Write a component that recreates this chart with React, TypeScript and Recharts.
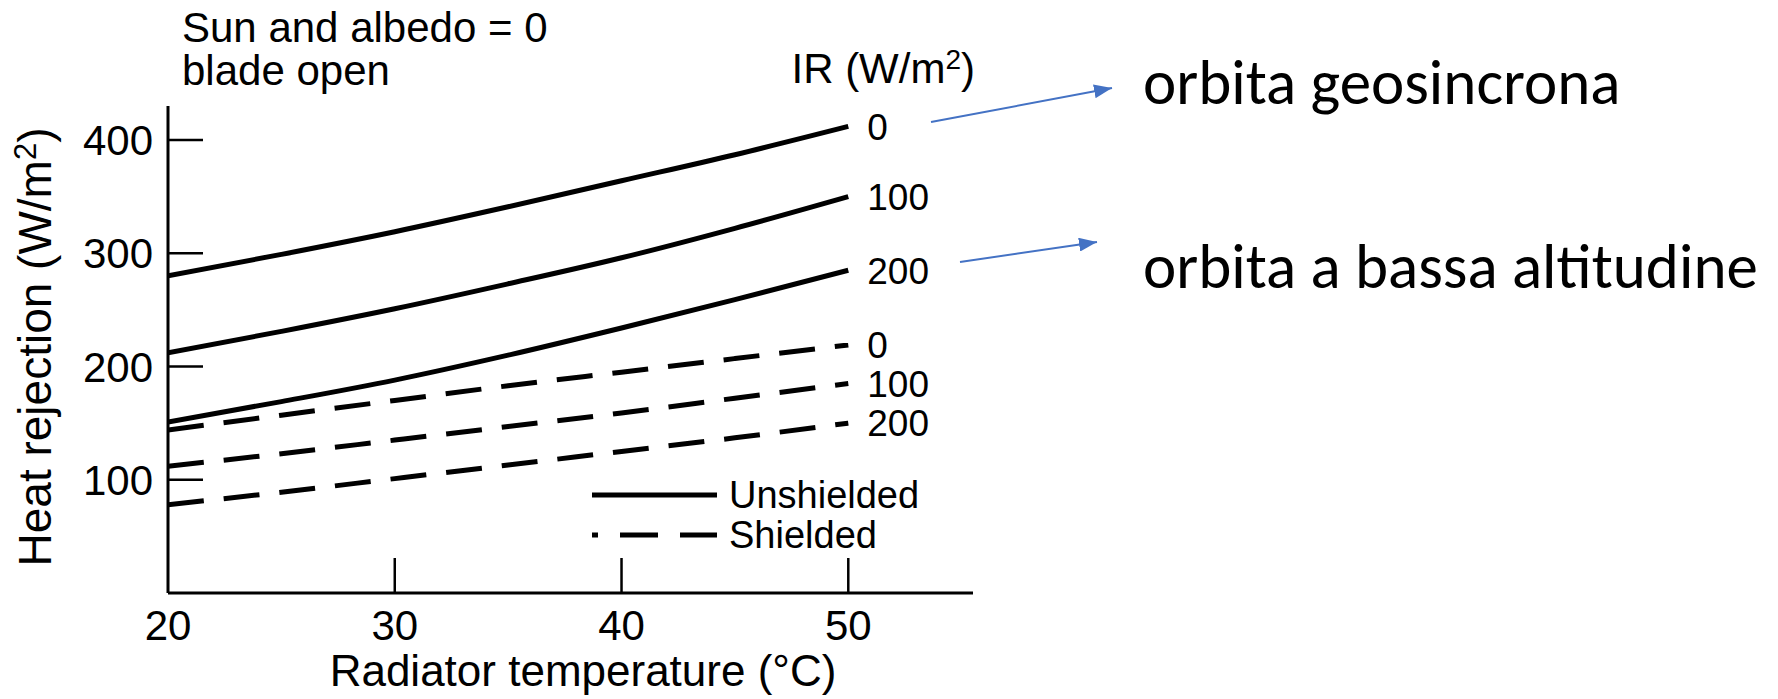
import React from "react";
import {
  LineChart,
  Line,
  XAxis,
  YAxis,
  Legend,
  Customized,
} from "recharts";

// radiator temperature (°C)
const temps = [20, 25, 30, 35, 40, 45, 50];
// heat rejection (W/m2), unshielded, for IR = 0 / 100 / 200
const unshielded0 = [280, 299, 319, 341, 364, 387, 412];
const unshielded100 = [212, 231, 251, 273, 296, 322, 350];
const unshielded200 = [151, 169, 188, 210, 234, 259, 285];
// shielded
const shielded0 = [144, 157, 170, 183, 195, 207, 219];
const shielded100 = [112, 123, 135, 147, 159, 172, 185];
const shielded200 = [78, 89, 101, 113, 125, 137, 150];

const xTicks = [20, 30, 40, 50];
const innerXTicks = [30, 40, 50];
const yTicks = [100, 200, 300, 400];
const irLevels = ["0", "100", "200"];
const legendItems = [
  { name: "Unshielded", dashed: false },
  { name: "Shielded", dashed: true },
];

const series = [
  { key: "u0", values: unshielded0, ir: irLevels[0], dashed: false },
  { key: "u100", values: unshielded100, ir: irLevels[1], dashed: false },
  { key: "u200", values: unshielded200, ir: irLevels[2], dashed: false },
  { key: "s0", values: shielded0, ir: irLevels[0], dashed: true },
  { key: "s100", values: shielded100, ir: irLevels[1], dashed: true },
  { key: "s200", values: shielded200, ir: irLevels[2], dashed: true },
];

const data = temps.map((t, i) => {
  const row: Record<string, number> = { t };
  series.forEach((s) => (row[s.key] = s.values[i]));
  return row;
});

const FONT = "'Liberation Sans', Arial, Helvetica, sans-serif";
const TICK = 35;
const DASH = "36 20";

function BottomTick(props: any) {
  const { x, y, payload } = props;
  const axisY = y - 17;
  return (
    <g>
      {payload.value !== 20 && (
        <line x1={x} x2={x} y1={axisY} y2={axisY - TICK} stroke="#000" strokeWidth={2.5} />
      )}
      <text x={x} y={y} dy="0.71em" textAnchor="middle" fontSize={42} fontFamily={FONT} fill="#000">
        {payload.value}
      </text>
    </g>
  );
}

function TopTick(props: any) {
  const { x, y } = props;
  return <line x1={x} x2={x} y1={y} y2={y + TICK} stroke="#000" strokeWidth={2.5} />;
}

function LeftTick(props: any) {
  const { x, y, payload } = props;
  const axisX = x + 15;
  return (
    <g>
      <line x1={axisX} x2={axisX + TICK} y1={y} y2={y} stroke="#000" strokeWidth={2.5} />
      <text x={x} y={y} dy="0.36em" textAnchor="end" fontSize={42} fontFamily={FONT} fill="#000">
        {payload.value}
      </text>
    </g>
  );
}

function RightTick(props: any) {
  const { x, y } = props;
  return <line x1={x} x2={x - TICK} y1={y} y2={y} stroke="#000" strokeWidth={2.5} />;
}

const endLabel = (text: string) => (props: any) => {
  const { index } = props;
  if (index !== temps.length - 1) return null;
  const x = props.x ?? props.viewBox?.x;
  const y = props.y ?? props.viewBox?.y;
  return (
    <text x={x + 19} y={y} dy="0.36em" fontSize={37} fontFamily={FONT} fill="#000">
      {text}
    </text>
  );
};

function LegendBox() {
  return (
    <svg width={380} height={100}>
      {legendItems.map((item, i) => (
        <g key={item.name}>
          <line
            x1={7}
            x2={132}
            y1={25 + i * 40}
            y2={25 + i * 40}
            stroke="#000"
            strokeWidth={5}
            strokeDasharray={item.dashed ? "6 22 38 22 38 100" : undefined}
          />
          <text x={144} y={38 + i * 40} fontSize={38} fontFamily={FONT} fill="#000">
            {item.name}
          </text>
        </g>
      ))}
    </svg>
  );
}

function Annotations() {
  const blue = "#4472C4";
  return (
    <g fontFamily={FONT} fill="#000">
      <defs>
        <marker id="arrowBlue" markerUnits="userSpaceOnUse" markerWidth={18} markerHeight={14} refX={18} refY={7} orient="auto">
          <path d="M0,0 L18,7 L0,14 z" fill={blue} />
        </marker>
      </defs>
      <text x={182} y={42} fontSize={42}>Sun and albedo = 0</text>
      <text x={182} y={85} fontSize={42}>blade open</text>
      <text x={975} y={83} fontSize={42} textAnchor="end">
        IR (W/m<tspan dy={-14} fontSize={28}>2</tspan>
        <tspan dy={14}>)</tspan>
      </text>
      <text transform="rotate(-90)" x={-347} y={51} fontSize={46} textAnchor="middle">
        Heat rejection (W/m<tspan dy={-15} fontSize={31}>2</tspan>
        <tspan dy={15}>)</tspan>
      </text>
      <text x={583} y={686} fontSize={44} textAnchor="middle">
        Radiator temperature (°C)
      </text>
      <line x1={931} y1={122} x2={1112} y2={88} stroke={blue} strokeWidth={2} markerEnd="url(#arrowBlue)" />
      <line x1={960} y1={262} x2={1097} y2={242} stroke={blue} strokeWidth={2} markerEnd="url(#arrowBlue)" />
      <g fontFamily="Carlito, 'Open Sans', sans-serif" fontSize={63}>
        <text x={1143} y={104}>orbita geosincrona</text>
        <text x={1143} y={288}>orbita a bassa altitudine</text>
      </g>
    </g>
  );
}

export default function App() {
  return (
    <div style={{ position: "absolute", left: 0, top: 0, background: "#fff" }}>
      <LineChart
        width={1778}
        height={699}
        data={data}
        margin={{ top: 106, right: 805, bottom: 0, left: 0 }}
      >
        <XAxis
          dataKey="t"
          type="number"
          domain={[20, 55.5]}
          allowDataOverflow
          ticks={xTicks}
          interval={0}
          height={106}
          tickSize={0}
          tickMargin={17}
          tick={<BottomTick />}
          axisLine={{ stroke: "#000", strokeWidth: 3 }}
        />
        <XAxis
          xAxisId="top"
          orientation="top"
          dataKey="t"
          type="number"
          domain={[20, 55.5]}
          allowDataOverflow
          ticks={innerXTicks}
          interval={0}
          height={0}
          tickSize={0}
          tickMargin={0}
          tick={<TopTick />}
          axisLine={{ stroke: "#000", strokeWidth: 3 }}
        />
        <YAxis
          type="number"
          domain={[0, 430]}
          allowDataOverflow
          ticks={yTicks}
          interval={0}
          width={168}
          tickSize={0}
          tickMargin={15}
          tick={<LeftTick />}
          axisLine={{ stroke: "#000", strokeWidth: 3 }}
        />
        <YAxis
          yAxisId="right"
          orientation="right"
          type="number"
          domain={[0, 430]}
          allowDataOverflow
          ticks={yTicks}
          interval={0}
          width={0}
          tickSize={0}
          tickMargin={0}
          tick={<RightTick />}
          axisLine={{ stroke: "#000", strokeWidth: 3 }}
        />
        {series.map((s) => (
          <Line
            key={s.key}
            dataKey={s.key}
            type="monotone"
            stroke="#000"
            strokeWidth={5}
            strokeDasharray={s.dashed ? DASH : undefined}
            dot={false}
            activeDot={false}
            isAnimationActive={false}
            label={endLabel(s.ir)}
          />
        ))}
        <Legend
          layout="vertical"
          align="center"
          verticalAlign="middle"
          wrapperStyle={{ left: 585, top: 470, width: 380, height: 100 }}
          content={<LegendBox />}
        />
        <Customized component={Annotations} />
      </LineChart>
    </div>
  );
}
